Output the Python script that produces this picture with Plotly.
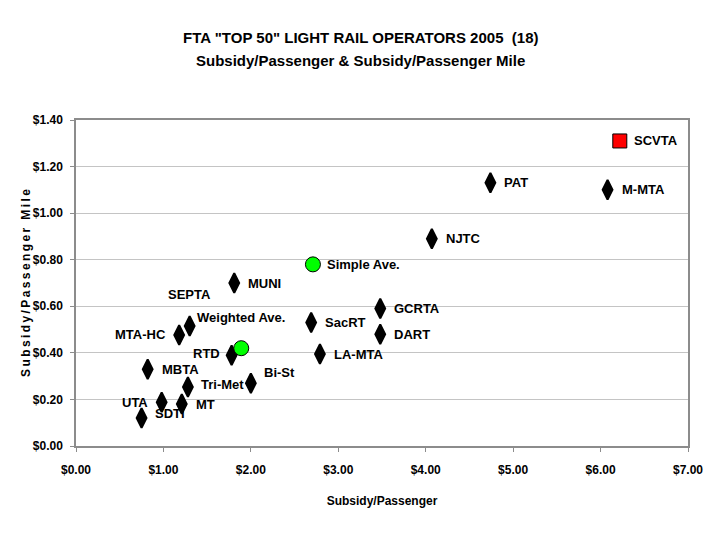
import plotly.graph_objects as go

# operators: subsidy per passenger ($) vs subsidy per passenger mile ($)
names = ["SCVTA", "PAT", "M-MTA", "NJTC", "MUNI", "GCRTA", "SacRT", "DART",
         "LA-MTA", "SEPTA", "MTA-HC", "RTD", "MBTA", "Tri-Met", "Bi-St",
         "UTA", "MT", "SDTI"]
per_passenger = [6.22, 4.74, 6.08, 4.07, 1.81, 3.48, 2.69, 3.48,
                 2.79, 1.30, 1.18, 1.78, 0.82, 1.28, 2.00,
                 0.98, 1.21, 0.75]
per_mile = [1.31, 1.13, 1.10, 0.89, 0.70, 0.59, 0.53, 0.48,
            0.395, 0.515, 0.477, 0.39, 0.33, 0.253, 0.27,
            0.188, 0.18, 0.12]

avg_names = ["Simple Ave.", "Weighted Ave."]
avg_per_passenger = [2.71, 1.89]
avg_per_mile = [0.78, 0.42]

x_ticks = [0, 1, 2, 3, 4, 5, 6, 7]
y_ticks = [0, 0.2, 0.4, 0.6, 0.8, 1.0, 1.2, 1.4]

title_1 = "FTA \"TOP 50\" LIGHT RAIL OPERATORS 2005  (18)"
title_2 = "Subsidy/Passenger & Subsidy/Passenger Mile"
y_title = "Subsidy/Passenger Mile"

# label placement (anchor, xshift, yshift) -- default is right of marker
label_pos = {
    "SEPTA": ("center", 0, 32),
    "Weighted Ave.": ("center", 0, 31),
    "MTA-HC": ("right", -11, 0),
    "RTD": ("right", -10, 2),
    "UTA": ("right", -12, 0),
    "Tri-Met": ("left", 11, 3),
    "Bi-St": ("left", 11, 11),
    "SDTI": ("left", 11, 5),
}

FONT = "Liberation Sans, Arial, sans-serif"

fig = go.Figure()

# SCVTA highlighted as red box, rest as black diamonds
fig.add_trace(go.Scatter(
    x=per_passenger[:1], y=per_mile[:1], mode="markers",
    marker=dict(symbol="square", size=14, color="#ff0000",
                line=dict(color="#000000", width=1)),
    hoverinfo="text", text=names[:1]))
fig.add_trace(go.Scatter(
    x=per_passenger[1:], y=per_mile[1:], mode="markers",
    marker=dict(symbol="diamond-tall", size=14, color="#000000",
                line=dict(color="#000000", width=2)),
    hoverinfo="text", text=names[1:]))
fig.add_trace(go.Scatter(
    x=avg_per_passenger, y=avg_per_mile, mode="markers",
    marker=dict(symbol="circle", size=15, color="#00ff00",
                line=dict(color="#000000", width=1)),
    hoverinfo="text", text=avg_names))

annots = []
for n, xv, yv in zip(names + avg_names, per_passenger + avg_per_passenger,
                     per_mile + avg_per_mile):
    anchor, dx, dy = label_pos.get(n, ("left", 12, 0))
    annots.append(dict(x=xv, y=yv, text="<b>%s</b>" % n, showarrow=False,
                       xanchor=anchor, yanchor="middle", xshift=dx, yshift=dy,
                       font=dict(family=FONT, size=13, color="#000000")))

# second title line, placed separately to get the wider line gap
annots.append(dict(xref="paper", yref="paper", x=0.465, y=1.181,
                   text="<b>%s</b>" % title_2, showarrow=False,
                   xanchor="center", yanchor="middle",
                   font=dict(family=FONT, size=15, color="#000000")))

# page body adds 8px offset, margins compensate for it
fig.update_layout(
    width=720, height=540,
    margin=dict(l=68, r=40, t=112, b=102),
    paper_bgcolor="white", plot_bgcolor="white",
    showlegend=False,
    annotations=annots,
    title=dict(text="<b>%s</b>" % title_1,
               x=0.49, xanchor="center", y=0.944, yanchor="middle",
               font=dict(family=FONT, size=15, color="#000000")),
    font=dict(family=FONT, color="#000000"),
)
fig.update_xaxes(
    range=[0, 7], tickvals=x_ticks,
    ticktext=["<b>$%.2f</b>" % v for v in x_ticks],
    tickfont=dict(size=12), showgrid=False, zeroline=False, automargin=False,
    showline=True, linecolor="#8c8c8c", linewidth=1.5, mirror=True,
    ticks="outside", ticklen=4, tickcolor="#8c8c8c", ticklabelstandoff=8,
    title=dict(text="<b>Subsidy/Passenger</b>", font=dict(size=12), standoff=20),
)
fig.update_yaxes(
    range=[0, 1.4], tickvals=y_ticks,
    ticktext=["<b>$%.2f</b>" % v for v in y_ticks],
    tickfont=dict(size=12), showgrid=True, gridcolor="#c4c4c4", gridwidth=1,
    zeroline=False, automargin=False,
    showline=True, linecolor="#8c8c8c", linewidth=1.5, mirror=True,
    ticks="outside", ticklen=4, tickcolor="#8c8c8c", ticklabelstandoff=5,
    title=dict(text="<b>%s</b>" % "\u2009".join(y_title),
               font=dict(size=12), standoff=0),
)

fig.write_html("out.html")
